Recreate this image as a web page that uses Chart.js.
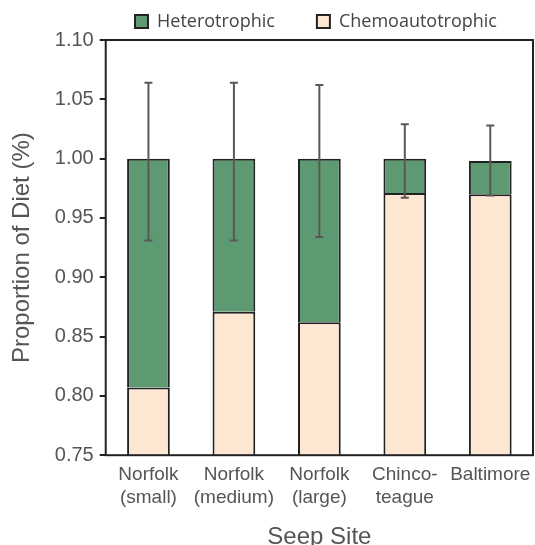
<!DOCTYPE html>
<html>
<head>
<meta charset="utf-8">
<script src="https://cdn.jsdelivr.net/npm/chart.js@4"></script>
<style>
  html, body { margin: 0; padding: 0; background: #fff; }
  #wrap { width: 535px; height: 545px; }
</style>
</head>
<body>
<div id="wrap"><canvas id="dietChart"></canvas></div>
<script>
// seep sites and diet proportions
var sites = [["Norfolk", "(small)"], ["Norfolk", "(medium)"], ["Norfolk", "(large)"], ["Chinco-", "teague"], ["Baltimore"]];
var chemo = [0.807, 0.871, 0.862, 0.971, 0.970];
var hetero = [0.193, 0.129, 0.138, 0.029, 0.028];
var errHigh = [1.064, 1.064, 1.062, 1.029, 1.028];
var errLow = [0.931, 0.931, 0.934, 0.967, 0.969];
var yTicks = [0.75, 0.80, 0.85, 0.90, 0.95, 1.00, 1.05, 1.10];

var axisFont = "'Liberation Sans', Arial, sans-serif";
var legendGap = 42;

// error bars drawn on top of the stacked bars
var errorBars = {
	id: 'errorBars',
	afterDatasetsDraw: function(chart) {
		var ctx = chart.ctx, x = chart.scales.x, y = chart.scales.y;
		ctx.save();
		ctx.strokeStyle = '#585858';
		ctx.lineWidth = 2;
		for (var i = 0; i < sites.length; i++) {
			var px = x.getPixelForValue(i);
			var top = y.getPixelForValue(errHigh[i]);
			var bot = y.getPixelForValue(errLow[i]);
			ctx.beginPath();
			ctx.moveTo(px, top); ctx.lineTo(px, bot);
			ctx.moveTo(px - 4, top); ctx.lineTo(px + 4, top);
			ctx.moveTo(px - 4, bot); ctx.lineTo(px + 4, bot);
			ctx.stroke();
		}
		ctx.restore();
	}
};

// box around the plot area
var frame = {
	id: 'frame',
	afterDraw: function(chart) {
		var a = chart.chartArea, ctx = chart.ctx;
		ctx.save();
		ctx.strokeStyle = '#222';
		ctx.lineWidth = 2;
		ctx.strokeRect(a.left, a.top, a.right - a.left, a.bottom - a.top);
		ctx.restore();
	}
};

// legend sits over the plot, items spread apart on one row
var legendPlace = {
	id: 'legendPlace',
	afterLayout: function(chart) {
		var lg = chart.legend;
		lg.left = 135 - legendGap;
		lg.right = chart.width + 100;
		lg.top = 12.5 - legendGap;
	}
};

new Chart(document.getElementById('dietChart'), {
	type: 'bar',
	data: {
		labels: sites,
		datasets: [{
			label: 'Chemoautotrophic',
			data: chemo,
			backgroundColor: '#fde6d2',
			borderColor: '#222',
			borderWidth: 2,
			borderSkipped: false,
			barPercentage: 0.5,
			categoryPercentage: 1
		}, {
			label: 'Heterotrophic',
			data: hetero,
			backgroundColor: '#5e9a71',
			borderColor: '#222',
			borderWidth: 2,
			borderSkipped: 'bottom',
			barPercentage: 0.5,
			categoryPercentage: 1
		}]
	},
	options: {
		responsive: true,
		maintainAspectRatio: false,
		animation: false,
		layout: { padding: { left: 8, right: 2, top: 0, bottom: -2 } },
		plugins: {
			legend: {
				reverse: true,
				align: 'start',
				maxHeight: 40,
				labels: {
					boxWidth: 13,
					boxHeight: 13,
					padding: legendGap,
					color: '#444',
					font: { family: "'Open Sans', sans-serif", size: 18 }
				}
			},
			tooltip: { enabled: false }
		},
		scales: {
			x: {
				stacked: true,
				afterFit: function(scale) { scale.paddingLeft = 0; scale.paddingRight = 0; },
				grid: { display: false, drawTicks: false },
				border: { display: false },
				ticks: {
					color: '#555', padding: 8, autoSkip: false, maxRotation: 0, minRotation: 0,
					font: { family: axisFont, size: 19 }
				},
				title: {
					display: true, text: 'Seep Site', color: '#555',
					padding: { top: 11, bottom: 0 },
					font: { family: axisFont, size: 24, lineHeight: 0.8 }
				}
			},
			y: {
				stacked: true,
				min: 0.75,
				max: 1.10,
				afterBuildTicks: function(axis) { axis.ticks = yTicks.map(function(v) { return { value: v }; }); },
				grid: { display: true, drawOnChartArea: false, tickLength: 6, color: '#222', lineWidth: 2 },
				border: { display: false },
				ticks: {
					color: '#555',
					padding: 6,
					font: { family: axisFont, size: 20 },
					callback: function(v) { return Number(v).toFixed(2); }
				},
				title: {
					display: true, text: 'Proportion of Diet (%)', color: '#555',
					padding: { top: 0, bottom: 12 },
					font: { family: axisFont, size: 24 }
				}
			}
		}
	},
	plugins: [errorBars, frame, legendPlace]
});
</script>
</body>
</html>
